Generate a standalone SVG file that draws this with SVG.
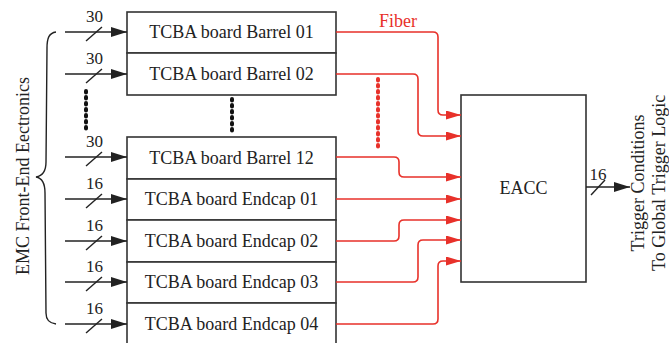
<svg xmlns="http://www.w3.org/2000/svg" width="669" height="343" viewBox="0 0 669 343" font-family="'Liberation Serif', 'Times New Roman', serif">
<defs>
<style>
text{font-family:"Liberation Serif","Times New Roman",serif;font-size:18px;fill:#222;}
.box{fill:#fff;stroke:#333;stroke-width:1.6;}
.lbl{text-anchor:middle;}
.num{font-size:17px;text-anchor:middle;}
.in{stroke:#222;stroke-width:1.5;fill:none;marker-end:url(#ah);}
.sl{stroke:#222;stroke-width:1.4;}
.fib{stroke:#e8312a;stroke-width:1.6;fill:none;marker-end:url(#ahr);}
.dots{stroke:#111;stroke-width:4;stroke-linecap:round;stroke-dasharray:1.6 4.4;}
.rdots{stroke:#e8312a;stroke-width:4;stroke-linecap:round;stroke-dasharray:1.6 4.4;}
</style>
<marker id="ah" markerUnits="userSpaceOnUse" markerWidth="16" markerHeight="10" refX="16" refY="5" orient="auto"><path d="M0,0 L16,5 L0,10 z" fill="#222"/></marker>
<marker id="ahr" markerUnits="userSpaceOnUse" markerWidth="15" markerHeight="9" refX="15" refY="4.5" orient="auto"><path d="M0,0 L15,4.5 L0,9 z" fill="#e8312a"/></marker>
</defs>
<rect width="669" height="343" fill="#fff"/>

<g id="label-emc">
<path d="M56,32 C49,33 47,38 47,48 L46,162 C46,171 42,176 36,177 C42,178 45,183 45,193 L46,313 C46,320 49,323 56,324" fill="none" stroke="#222" stroke-width="1.4"/>
<text class="lbl" transform="translate(29,176) rotate(-90)">EMC Front-End Eectronics</text>
</g>

<g id="tcba-barrel-01"><rect class="box" x="127" y="12" width="209" height="41"/><text class="lbl" x="231.5" y="38">TCBA board Barrel 01</text></g>
<g id="tcba-barrel-02"><rect class="box" x="127" y="53" width="209" height="42"/><text class="lbl" x="231.5" y="80">TCBA board Barrel 02</text></g>
<g id="tcba-barrel-12"><rect class="box" x="127" y="137" width="209" height="42"/><text class="lbl" x="231.5" y="164">TCBA board Barrel 12</text></g>
<g id="tcba-endcap-01"><rect class="box" x="127" y="179" width="209" height="41"/><text class="lbl" x="231.5" y="205">TCBA board Endcap 01</text></g>
<g id="tcba-endcap-02"><rect class="box" x="127" y="220" width="209" height="42"/><text class="lbl" x="231.5" y="247">TCBA board Endcap 02</text></g>
<g id="tcba-endcap-03"><rect class="box" x="127" y="262" width="209" height="41"/><text class="lbl" x="231.5" y="288">TCBA board Endcap 03</text></g>
<g id="tcba-endcap-04"><rect class="box" x="127" y="303" width="209" height="42"/><text class="lbl" x="231.5" y="330">TCBA board Endcap 04</text></g>

<g id="eacc"><rect class="box" x="461" y="95" width="125" height="187"/><text class="lbl" x="523.5" y="194">EACC</text></g>

<g id="label-output">
<text class="lbl" transform="translate(644,183) rotate(-90)">Trigger Conditions</text>
<text class="lbl" transform="translate(665,183) rotate(-90)">To Global Trigger Logic</text>
</g>

<g id="connectors">
<line class="in" x1="65" y1="32" x2="127" y2="32"/>
<line class="in" x1="65" y1="74" x2="127" y2="74"/>
<line class="in" x1="65" y1="157" x2="127" y2="157"/>
<line class="in" x1="65" y1="199" x2="127" y2="199"/>
<line class="in" x1="65" y1="241" x2="127" y2="241"/>
<line class="in" x1="65" y1="282" x2="127" y2="282"/>
<line class="in" x1="65" y1="324" x2="127" y2="324"/>
<line class="sl" x1="86" y1="41" x2="102" y2="27"/>
<line class="sl" x1="86" y1="83" x2="102" y2="69"/>
<line class="sl" x1="86" y1="166" x2="102" y2="152"/>
<line class="sl" x1="86" y1="208" x2="102" y2="194"/>
<line class="sl" x1="86" y1="250" x2="102" y2="236"/>
<line class="sl" x1="86" y1="291" x2="102" y2="277"/>
<line class="sl" x1="86" y1="333" x2="102" y2="319"/>
<text class="num" x="94.5" y="22">30</text>
<text class="num" x="94.5" y="64">30</text>
<text class="num" x="94.5" y="147">30</text>
<text class="num" x="94.5" y="189">16</text>
<text class="num" x="94.5" y="231">16</text>
<text class="num" x="94.5" y="272">16</text>
<text class="num" x="94.5" y="314">16</text>
<line class="dots" x1="86" y1="91" x2="86" y2="131"/>
<line class="dots" x1="232" y1="99" x2="232" y2="131"/>
<line class="rdots" x1="378" y1="79" x2="378" y2="147"/>
<path class="fib" d="M336,32 H433 Q438,32 438,37 V110 Q438,115 443,115 H461"/>
<path class="fib" d="M336,74 H413 Q418,74 418,79 V131 Q418,136 423,136 H461"/>
<path class="fib" d="M336,157 H394 Q399,157 399,162 V172 Q399,177 404,177 H461"/>
<path class="fib" d="M336,199 H461"/>
<path class="fib" d="M336,241 H394 Q399,241 399,236 V225 Q399,220 404,220 H461"/>
<path class="fib" d="M336,282 H413 Q418,282 418,277 V245 Q418,240 423,240 H461"/>
<path class="fib" d="M336,324 H433 Q438,324 438,319 V266 Q438,261 443,261 H461"/>
<text class="lbl" x="398" y="27" style="fill:#e8312a">Fiber</text>
<line class="in" x1="586" y1="187" x2="630" y2="187"/>
<line class="sl" x1="591" y1="195" x2="605" y2="180"/>
<text class="num" x="598" y="180">16</text>
</g>
</svg>
